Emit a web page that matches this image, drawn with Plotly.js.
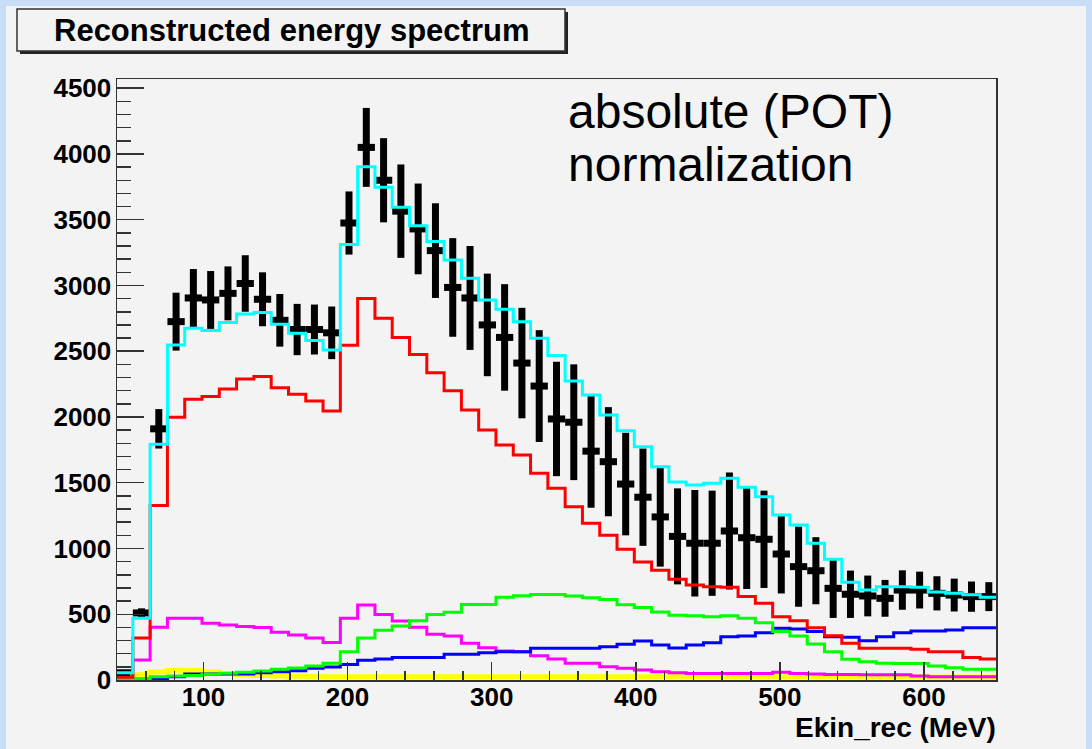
<!DOCTYPE html>
<html>
<head>
<meta charset="utf-8">
<script src="https://cdn.plot.ly/plotly-3.0.1.min.js"></script>
<style>
  html, body { margin: 0; padding: 0; background: #c8ddf7; width: 1092px; height: 749px; overflow: hidden; }
  #chart { position: absolute; left: 6px; top: 6px; width: 1080px; height: 743px; }
</style>
</head>
<body>
<div id="chart"></div>
<script>
// Bin centres (MeV), 12 MeV wide bins
const binCenters = [45,57,69,81,93,105,117,129,141,153,165,177,189,201,213,225,237,249,261,273,285,297,309,321,333,345,357,369,381,393,405,417,429,441,453,465,477,489,501,513,525,537,549,561,573,585,597,609,621,633,645];

// Data points and their errors
const dataCounts = [55,510,1910,2725,2905,2890,2940,3015,2895,2735,2665,2665,2640,3475,4050,3800,3565,3430,3265,2985,2905,2700,2605,2410,2235,1985,1960,1740,1660,1490,1390,1240,1092,1040,1040,1133,1082,1070,958,862,831,697,652,639,621,684,684,659,646,634,634];
const dataErrors = [10,35,150,220,220,220,205,215,205,200,195,190,200,240,300,320,355,345,360,375,395,390,405,420,425,435,440,430,415,390,370,378,365,405,400,445,390,370,300,305,255,225,180,155,140,150,140,130,125,115,110];

// MC components
const totalMC = [55,469,1793,2548,2675,2657,2718,2784,2794,2705,2637,2581,2510,3312,3902,3747,3595,3455,3334,3194,3055,2890,2819,2725,2599,2468,2274,2168,2015,1895,1774,1622,1505,1483,1496,1534,1466,1394,1255,1179,1040,918,743,684,710,710,705,670,659,648,629];
const redComp = [20,320,1326,1998,2135,2155,2213,2289,2307,2223,2173,2122,2046,2546,2900,2751,2604,2475,2337,2200,2054,1901,1787,1711,1572,1458,1318,1192,1100,994,898,834,766,722,710,705,634,583,481,451,398,337,279,241,241,241,233,215,215,172,160];
const magentaComp = [15,152,401,469,469,431,418,406,400,364,342,320,286,469,570,499,449,401,348,335,279,246,221,215,185,160,127,127,101,89,76,63,56,50,50,50,50,50,58,50,45,42,42,40,40,40,30,25,25,25,25];
const greenComp = [8,10,25,30,35,43,51,58,68,81,91,106,127,215,320,378,411,451,499,515,575,575,629,641,651,651,639,626,612,573,552,518,492,489,481,489,469,436,368,335,274,215,157,139,127,125,125,106,94,81,81];
const blueComp = [0,5,10,25,45,46,46,46,56,63,71,89,98,118,150,160,172,172,172,195,195,208,215,215,241,241,241,241,253,272,297,266,243,266,284,329,335,360,393,388,368,329,325,299,329,360,373,373,380,398,398];
const yellowComp = [10,40,60,75,72,62,50,40,35,30,28,26,25,25,25,25,25,25,25,25,25,25,25,25,25,25,25,25,25,25,25,25,25,25,25,25,25,25,25,25,25,25,22,22,22,22,22,22,22,22,22];

const xTickVals = [100,200,300,400,500,600];
const yTickVals = [0,500,1000,1500,2000,2500,3000,3500,4000,4500];

const halfBin = (binCenters[1] - binCenters[0]) / 2;

function stepTrace(vals, color, width) {
  const xs = [], ys = [];
  for (let i = 0; i < vals.length; i++) {
    xs.push(binCenters[i] - halfBin);
    ys.push(vals[i]);
  }
  xs.push(binCenters[binCenters.length - 1] + halfBin);
  ys.push(vals[vals.length - 1]);
  return {
    x: xs, y: ys, type: 'scatter', mode: 'lines',
    line: { shape: 'hv', color: color, width: width },
    hoverinfo: 'skip', showlegend: false
  };
}

const dataTrace = {
  x: binCenters, y: dataCounts, type: 'scatter', mode: 'markers',
  marker: { size: 1, color: 'black' },
  error_y: { type: 'data', array: dataErrors, visible: true, thickness: 7, width: 0, color: 'black' },
  error_x: { type: 'constant', value: halfBin, visible: true, thickness: 7, width: 0, color: 'black' },
  showlegend: false, hoverinfo: 'skip'
};

const traces = [
  dataTrace,
  stepTrace(yellowComp, '#ffff00', 5),
  stepTrace(magentaComp, '#ff00ff', 3),
  stepTrace(blueComp, '#0000ff', 3),
  stepTrace(greenComp, '#00ff00', 3),
  stepTrace(redComp, '#ff0000', 3),
  stepTrace(totalMC, '#00ffff', 3)
];

// page-pixel -> paper helpers for decorations
const ML = 111, MT = 73, PW = 879, PH = 601, OFF = 6;
const px = p => (p - OFF - ML) / PW;
const py = p => 1 - (p - OFF - MT) / PH;

const axisFont = { family: 'Liberation Sans, Arial, sans-serif', size: 26, color: '#000', weight: 'bold' };

const layout = {
  width: 1080, height: 743,
  margin: { l: ML, r: 1080 - ML - PW, t: MT, b: 743 - MT - PH, autoexpand: false },
  paper_bgcolor: '#f3f3f3', plot_bgcolor: '#f3f3f3',
  showlegend: false,
  xaxis: {
    range: [40, 650], tickvals: xTickVals, ticktext: xTickVals.map(String),
    ticks: 'inside', ticklen: 18, tickwidth: 1.5, tickcolor: '#333',
    minor: { dtick: 20, tick0: 0, ticks: 'inside', ticklen: 9, tickwidth: 1.5, tickcolor: '#333', showgrid: false },
    showline: true, linecolor: '#333', linewidth: 1.5, mirror: true,
    showgrid: false, zeroline: false, tickfont: axisFont, ticklabelstandoff: -7
  },
  yaxis: {
    range: [0, 4570], tickvals: yTickVals, ticktext: yTickVals.map(String),
    ticks: 'inside', ticklen: 27, tickwidth: 1.5, tickcolor: '#333',
    minor: { dtick: 100, tick0: 0, ticks: 'inside', ticklen: 14, tickwidth: 1.5, tickcolor: '#333', showgrid: false },
    showline: true, linecolor: '#333', linewidth: 1.5, mirror: true,
    showgrid: false, zeroline: false, tickfont: axisFont, ticklabelstandoff: -1
  },
  shapes: [
    { type: 'rect', xref: 'paper', yref: 'paper', x0: px(20), x1: px(568), y0: py(54), y1: py(12),
      fillcolor: '#222', line: { width: 0 }, layer: 'above' },
    { type: 'rect', xref: 'paper', yref: 'paper', x0: px(17), x1: px(565), y0: py(51), y1: py(9),
      fillcolor: '#f3f3f3', line: { color: '#333', width: 1.5 }, layer: 'above' }
  ],
  annotations: [
    { xref: 'paper', yref: 'paper', x: px(291), y: py(30), xanchor: 'center', yanchor: 'middle',
      text: 'Reconstructed energy spectrum', showarrow: false,
      font: { family: 'Liberation Sans, Arial, sans-serif', size: 31, color: '#000', weight: 'bold' } },
    { xref: 'paper', yref: 'paper', x: px(566), y: py(112), xanchor: 'left', yanchor: 'middle',
      text: 'absolute (POT)', showarrow: false,
      font: { family: 'Liberation Sans, Arial, sans-serif', size: 48, color: '#000' } },
    { xref: 'paper', yref: 'paper', x: px(566), y: py(164), xanchor: 'left', yanchor: 'middle',
      text: 'normalization', showarrow: false,
      font: { family: 'Liberation Sans, Arial, sans-serif', size: 48, color: '#000' } },
    { xref: 'paper', yref: 'paper', x: px(998), y: py(727), xanchor: 'right', yanchor: 'middle',
      text: 'Ekin_rec (MeV)', showarrow: false,
      font: { family: 'Liberation Sans, Arial, sans-serif', size: 28, color: '#000', weight: 'bold' } }
  ]
};

Plotly.newPlot('chart', traces, layout, { displayModeBar: false, staticPlot: true });
</script>
</body>
</html>
